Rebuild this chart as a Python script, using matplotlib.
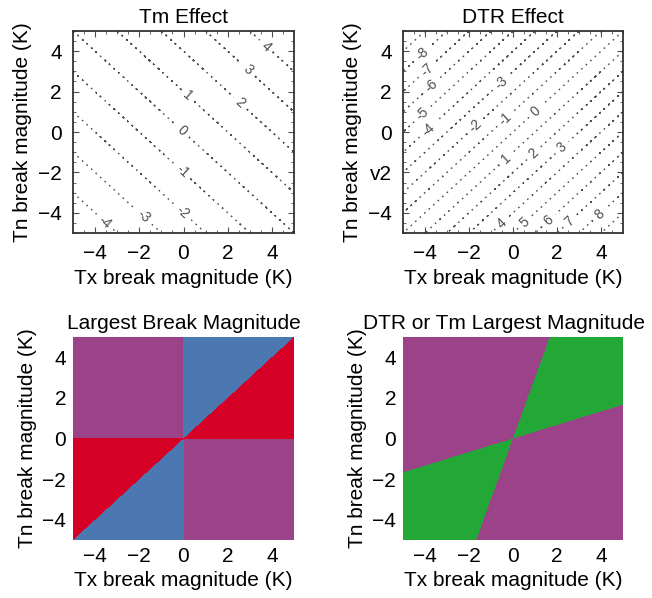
import numpy as np
import matplotlib
matplotlib.use("Agg")
import matplotlib.pyplot as plt
from matplotlib.colors import ListedColormap
from matplotlib.ticker import MultipleLocator

plt.rcParams['font.family'] = ['Liberation Sans', 'DejaVu Sans']
plt.rcParams['font.size'] = 15

# break magnitude range (K)
tx_range = [-5, 5]
tn_range = [-5, 5]
ticks = [-4, -2, 0, 2, 4]

# contour levels
tm_levels = [-5, -4, -3, -2, -1, 0, 1, 2, 3, 4, 5]
dtr_levels = [-10, -9, -8, -7, -6, -5, -4, -3, -2, -1, 0, 1, 2, 3, 4, 5, 6, 7, 8, 9, 10]

# where the contour labels sit
tm_label_pos = [(3.76, 4.26), (2.93, 3.07), (2.56, 1.42), (0.22, 1.83), (-0.08, 0.01),
                (-0.01, -1.88), (-0.01, -3.94), (-1.74, -4.11), (-3.55, -4.44)]
dtr_label_pos = [(-4.15, 3.9), (-3.92, 3.1), (-3.77, 2.33), (-4.15, 0.93), (-3.92, 0.18),
                 (-0.59, 2.49), (-1.73, 0.3), (-0.36, 0.68), (1.0, 1.05), (-0.36, -1.3),
                 (0.92, -1.05), (2.21, -0.75), (-0.51, -4.5), (0.47, -4.4), (1.6, -4.35),
                 (2.59, -4.42), (3.95, -4.1)]

dtr_yticklabels = ['\u22124', 'v2', '0', '2', '4']

# category colours
largest_colors = ['#D60027', '#4C78B1', '#9B4289']   # Tx, Tn, DTR
dtr_tm_colors = ['#9B4289', '#23A837']                # DTR, Tm

tx = np.linspace(tx_range[0], tx_range[1], 1001)
tn = np.linspace(tn_range[0], tn_range[1], 1001)
TX, TN = np.meshgrid(tx, tn)
TM = (TX + TN) / 2
DTR = TX - TN

W, H = 652, 598
fig = plt.figure(figsize=(W / 100, H / 100), dpi=100)
ax1 = fig.add_axes([73 / W, 1 - 233 / H, 221 / W, 202 / H])
ax2 = fig.add_axes([403 / W, 1 - 233 / H, 220 / W, 202 / H])
ax3 = fig.add_axes([73 / W, 1 - 540 / H, 221 / W, 203 / H])
ax4 = fig.add_axes([403 / W, 1 - 540 / H, 220 / W, 203 / H])


def contour_panel(ax, Z, levels, label_pos, title):
    cs = ax.contour(TX, TN, Z, levels=levels, colors='0.3',
                    linestyles=[(0, (1.2, 3.2))], linewidths=1.0)
    ax.clabel(cs, fontsize=10, colors='0.3', manual=label_pos, inline=True, fmt='%d')
    ax.set_xlim(tx_range)
    ax.set_ylim(tn_range)
    ax.set_xticks(ticks)
    ax.set_yticks(ticks)
    ax.xaxis.set_minor_locator(MultipleLocator(0.5))
    ax.yaxis.set_minor_locator(MultipleLocator(0.5))
    ax.tick_params(which='both', direction='in', top=True, right=True, color='0.3')
    ax.tick_params(which='major', length=4, pad=8)
    ax.tick_params(which='minor', length=2.5)
    for s in ax.spines.values():
        s.set_linewidth(1.3)
        s.set_color('0.2')
    ax.set_title(title, fontsize=15)
    ax.set_xlabel('Tx break magnitude (K)')
    ax.set_ylabel('Tn break magnitude (K)')


def category_panel(ax, cat, colors, title, title_x=0.5):
    ax.imshow(cat, origin='lower', extent=[*tx_range, *tn_range], aspect='auto',
              cmap=ListedColormap(colors), vmin=-0.5, vmax=len(colors) - 0.5,
              interpolation='nearest')
    ax.set_xlim(tx_range)
    ax.set_ylim(tn_range)
    ax.set_xticks(ticks)
    ax.set_yticks(ticks)
    ax.tick_params(length=0, pad=5)
    for s in ax.spines.values():
        s.set_visible(False)
    ax.set_title(title, fontsize=15, x=title_x)
    ax.set_xlabel('Tx break magnitude (K)')
    ax.set_ylabel('Tn break magnitude (K)')


contour_panel(ax1, TM, tm_levels, tm_label_pos, 'Tm Effect')
contour_panel(ax2, DTR, dtr_levels, dtr_label_pos, 'DTR Effect')
ax2.set_yticklabels(dtr_yticklabels)

# largest of |Tx|, |Tn|, |DTR|
largest = np.argmax(np.stack([np.abs(TX), np.abs(TN), np.abs(DTR)]), axis=0)
category_panel(ax3, largest, largest_colors, 'Largest Break Magnitude')

# DTR or Tm largest
dtr_or_tm = (np.abs(TM) > np.abs(DTR)).astype(int)
category_panel(ax4, dtr_or_tm, dtr_tm_colors, 'DTR or Tm Largest Magnitude', title_x=0.46)

fig.savefig('out.png', dpi=100)
